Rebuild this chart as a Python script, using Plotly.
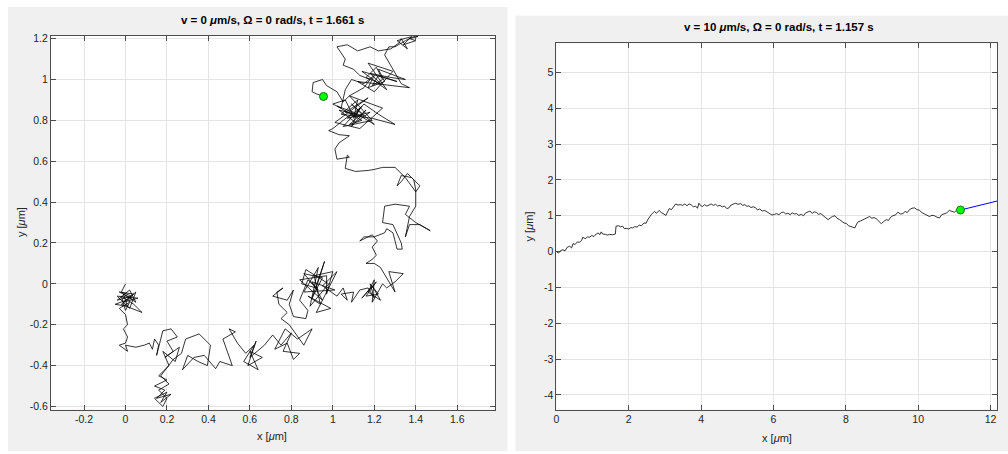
import plotly.graph_objects as go

# ---------------- DATA ----------------
# Left panel: passive Brownian particle (v = 0)
LEFT_X = [
    0, -0.02, 0.03, -0.04, 0.02, 0.05, -0.01, 0.01, -0.05, 0.03,
    -0.03, 0.04, -0.01, 0.06, -0.04, 0.02, 0.05, -0.02,
    0.08, 0.04, -0.02, 0.0, 0.02, -0.03, 0.0, 0.01, -0.01, 0.01,
    0.0, -0.03, 0.01, 0.0, 0.05, 0.09, 0.115, 0.13, 0.14, 0.16,
    0.15, 0.18, 0.22, 0.25, 0.20, 0.23, 0.19, 0.26, 0.24, 0.18,
    0.21, 0.19, 0.16, 0.20, 0.14, 0.19, 0.15, 0.22, 0.17, 0.20,
    0.14, 0.18, 0.20, 0.16, 0.21, 0.17, 0.20, 0.23, 0.27, 0.29,
    0.355, 0.41, 0.395, 0.35, 0.30, 0.275, 0.33, 0.38, 0.435, 0.455,
    0.515, 0.47, 0.53, 0.50, 0.54, 0.58, 0.62, 0.57, 0.64, 0.60,
    0.66, 0.59, 0.63, 0.60, 0.67, 0.71, 0.75, 0.80, 0.76, 0.84,
    0.81, 0.78, 0.72, 0.77, 0.83, 0.90, 0.86, 0.79, 0.75, 0.78,
    0.74, 0.73, 0.76, 0.71, 0.78, 0.81, 0.79, 0.81, 0.87, 0.88,
    0.84, 0.86, 0.88, 0.93, 0.86, 0.95, 0.90, 0.96, 0.92, 0.85,
    0.87, 0.98, 0.89, 0.93, 0.86, 1.01, 0.90, 0.95, 0.84, 0.97,
    0.97, 1.00, 0.91, 0.94, 0.88, 0.99, 0.92, 1.02, 0.95, 1.02,
    1.05, 1.07, 1.04, 1.10, 1.09, 1.13, 1.17, 1.20, 1.18, 1.22,
    1.16, 1.21, 1.14, 1.19, 1.23, 1.17, 1.20,
    1.19, 1.24, 1.26, 1.30, 1.34, 1.27, 1.30, 1.23, 1.20, 1.16,
    1.19, 1.21, 1.19, 1.215, 1.19, 1.13, 1.15, 1.20, 1.25, 1.26,
    1.29, 1.30, 1.31, 1.335, 1.33, 1.29, 1.24, 1.25, 1.30, 1.37,
    1.35, 1.40, 1.47, 1.42, 1.37, 1.35, 1.37, 1.40, 1.40, 1.39,
    1.36, 1.33, 1.31, 1.33, 1.38, 1.42, 1.40, 1.35, 1.30, 1.24,
    1.20, 1.17, 1.11, 1.06, 1.07, 1.08, 1.05, 1.02, 1.01, 1.03,
    1.08, 1.03, 0.98, 1.00, 1.05, 1.10, 1.02, 1.14, 1.08, 1.16,
    1.09, 1.13, 1.07, 1.18, 1.11, 1.03, 1.12, 1.20, 1.09, 1.15,
    1.06, 1.17, 1.01, 1.13, 1.24, 1.08, 1.19, 1.05, 1.14, 1.10,
    1.12, 1.04, 1.19, 1.27, 1.30, 1.22, 1.15, 1.10, 1.06, 1.00,
    1.04, 1.06, 1.09, 1.15, 1.20, 1.17, 1.25, 1.22, 1.30, 1.35,
    1.28, 1.18, 1.23, 1.16, 1.21, 1.24, 1.19, 1.22, 1.31,
    1.14, 1.26, 1.17, 1.29, 1.20, 1.12,
    1.37, 1.33, 1.28, 1.25, 1.27, 1.30, 1.35, 1.39, 1.41, 1.37,
    1.40, 1.34, 1.38, 1.31, 1.36, 1.33,
    1.32, 1.28, 1.22, 1.18, 1.12, 1.07, 1.02, 1.06, 1.05, 1.10,
    1.13, 1.18, 1.15, 1.08, 1.05, 1.02, 0.97, 0.95, 0.905, 0.90,
    0.92, 0.955,
]
LEFT_Y = [
    0, -0.04, -0.06, -0.08, -0.03, -0.09, -0.05, -0.11, -0.10, -0.07,
    -0.04, -0.05, -0.09, -0.07, -0.06, -0.12, -0.04, -0.10,
    -0.14, -0.10, -0.06, -0.13, -0.09, -0.12, -0.15, -0.20, -0.22, -0.26,
    -0.29, -0.30, -0.33, -0.30, -0.31, -0.30, -0.29, -0.32, -0.27, -0.30,
    -0.35, -0.23, -0.22, -0.26, -0.28, -0.33, -0.36, -0.31, -0.38, -0.33,
    -0.40, -0.42, -0.45, -0.47, -0.50, -0.52, -0.56, -0.54, -0.58, -0.53,
    -0.56, -0.60, -0.56, -0.52, -0.49, -0.45, -0.41, -0.37, -0.34, -0.27,
    -0.245, -0.30, -0.40, -0.38, -0.35, -0.42, -0.36, -0.35, -0.415, -0.38,
    -0.40, -0.27, -0.235, -0.22, -0.29, -0.34, -0.30, -0.38, -0.42, -0.33,
    -0.36, -0.40, -0.28, -0.36, -0.30, -0.25, -0.30, -0.24, -0.33, -0.34,
    -0.37, -0.29, -0.32, -0.22, -0.27, -0.22, -0.30, -0.20, -0.17, -0.14,
    -0.10, -0.04, -0.02, -0.06, -0.08, -0.03, -0.10, -0.16, -0.17, -0.13,
    -0.08, -0.03, 0.02, -0.03, 0.05, 0.03, -0.07, 0.11, -0.02, 0.00,
    0.07, 0.00, -0.11, 0.08, -0.04, -0.03, 0.01, -0.08, 0.02, 0.04,
    -0.05, 0.06, 0.04, -0.10, -0.06, -0.12, -0.14, 0.06, -0.01, -0.06,
    -0.02, -0.08, -0.05, -0.04, -0.09, -0.03, -0.02, -0.07, 0.00, -0.05,
    -0.06, 0.01, -0.07, -0.01, -0.08, -0.04, 0.02,
    -0.09, 0.00, -0.02, 0.01, 0.05, 0.06, -0.04, 0.08, 0.10, 0.10,
    0.12, 0.14, 0.18, 0.21, 0.24, 0.21, 0.23, 0.23, 0.25, 0.27,
    0.25, 0.21, 0.17, 0.17, 0.20, 0.29, 0.30, 0.38, 0.39, 0.38,
    0.34, 0.30, 0.26, 0.29, 0.29, 0.23, 0.33, 0.38, 0.46, 0.51,
    0.54, 0.50, 0.48, 0.53, 0.52, 0.48, 0.45, 0.52, 0.57, 0.57,
    0.56, 0.555, 0.55, 0.565, 0.63, 0.62, 0.615, 0.61, 0.66, 0.69,
    0.725, 0.73, 0.75, 0.76, 0.80, 0.84, 0.87, 0.80, 0.78, 0.85,
    0.77, 0.86, 0.81, 0.84, 0.79, 0.85, 0.83, 0.78, 0.88, 0.82,
    0.84, 0.91, 0.79, 0.76, 0.86, 0.92, 0.80, 0.77, 0.87, 0.81,
    0.90, 0.83, 0.81, 0.79, 0.78, 0.83, 0.88, 0.82, 0.90, 0.88,
    0.86, 0.95, 1.00, 0.98, 1.02, 0.96, 0.99, 1.05, 1.02, 1.00,
    1.01, 1.03, 0.98, 1.01, 1.06, 1.00, 0.97, 1.02, 0.99,
    1.04, 0.95, 1.08, 1.04, 0.94, 0.99,
    0.96, 0.98, 1.07, 1.12, 1.16, 1.16, 1.19, 1.21, 1.21, 1.20,
    1.19, 1.17, 1.21, 1.19, 1.15, 1.20,
    1.18, 1.15, 1.14, 1.16, 1.14, 1.17, 1.16, 1.10, 1.07, 1.05,
    1.02, 1.00, 0.96, 0.92, 0.89, 0.94, 0.97, 1.00, 0.985, 0.94,
    0.93, 0.917,
]

# Right panel: active particle (v = 10 um/s)
RIGHT_X = [
    0.00, 0.06, 0.12, 0.18, 0.24, 0.30, 0.37, 0.42, 0.46, 0.52,
    0.58, 0.64, 0.70, 0.73, 0.80, 0.86, 0.92, 0.98, 1.04, 1.10,
    1.16, 1.20, 1.24, 1.28, 1.36, 1.42, 1.47, 1.55, 1.63, 1.65,
    1.72, 1.78, 1.83, 1.88, 1.93, 2.00, 2.06, 2.11, 2.17, 2.23,
    2.29, 2.35, 2.42, 2.48, 2.52, 2.57, 2.62, 2.67, 2.71, 2.77,
    2.84, 2.90, 2.96, 3.03, 3.07, 3.12, 3.18, 3.24, 3.30, 3.36,
    3.43, 3.49, 3.55, 3.61, 3.67, 3.73, 3.79, 3.85, 3.90, 3.94,
    3.99, 4.04, 4.10, 4.16, 4.22, 4.28, 4.34, 4.40, 4.46, 4.52,
    4.59, 4.65, 4.71, 4.77, 4.83, 4.89, 4.95, 5.02, 5.09, 5.15,
    5.21, 5.27, 5.32, 5.38, 5.44, 5.50, 5.56, 5.62, 5.69, 5.76,
    5.83, 5.90, 5.96, 6.03, 6.09, 6.15, 6.22, 6.28, 6.34, 6.40,
    6.46, 6.52, 6.58, 6.64, 6.70, 6.77, 6.83, 6.89, 6.95, 7.01,
    7.07, 7.13, 7.19, 7.25, 7.31, 7.38, 7.44, 7.51, 7.57, 7.63,
    7.70, 7.76, 7.83, 7.89, 7.95, 8.02, 8.08, 8.14, 8.20, 8.25,
    8.30, 8.34, 8.40, 8.48, 8.54, 8.60, 8.66, 8.72, 8.78, 8.84,
    8.90, 8.98, 9.05, 9.12, 9.18, 9.24, 9.30, 9.37, 9.44, 9.51,
    9.58, 9.64, 9.70, 9.76, 9.83, 9.90, 9.97, 10.04, 10.10, 10.17,
    10.24, 10.31, 10.38, 10.45, 10.52, 10.59, 10.65, 10.72, 10.79, 10.86,
    10.93, 11.00, 11.07, 11.12, 11.17,
]
RIGHT_Y = [
    0.00, -0.04, 0.03, 0.05, 0.02, 0.12, 0.15, 0.10, 0.22, 0.20,
    0.27, 0.26, 0.31, 0.40, 0.36, 0.41, 0.40, 0.45, 0.42, 0.49,
    0.52, 0.47, 0.55, 0.49, 0.48, 0.46, 0.48, 0.47, 0.49, 0.71,
    0.72, 0.69, 0.71, 0.64, 0.65, 0.63, 0.67, 0.66, 0.70, 0.68,
    0.74, 0.72, 0.80, 0.79, 0.88, 0.97, 1.03, 1.08, 1.12, 1.07,
    1.15, 1.09, 1.05, 1.01, 1.10, 1.20, 1.17, 1.26, 1.33, 1.30,
    1.31, 1.29, 1.33, 1.28, 1.33, 1.30, 1.25, 1.27, 1.21, 1.35,
    1.28, 1.26, 1.31, 1.27, 1.30, 1.33, 1.29, 1.32, 1.27, 1.29,
    1.25, 1.27, 1.20, 1.22, 1.30, 1.33, 1.35, 1.32, 1.34, 1.29,
    1.31, 1.26, 1.28, 1.23, 1.25, 1.23, 1.16, 1.19, 1.13, 1.15,
    1.10, 1.05, 1.02, 1.04, 1.06, 1.03, 1.09, 1.10, 1.05, 1.07,
    1.03, 1.08, 1.05, 1.06, 1.01, 1.04, 1.00, 1.08, 1.10, 1.13,
    1.07, 1.11, 1.09, 1.04, 1.06, 1.00, 0.93, 0.89, 0.94, 0.98,
    1.00, 0.93, 0.89, 0.84, 0.80, 0.78, 0.72, 0.70, 0.67, 0.66,
    0.77, 0.83, 0.85, 0.89, 0.93, 0.97, 0.98, 0.93, 0.95, 0.92,
    0.85, 0.78, 0.84, 0.89, 0.87, 0.96, 1.00, 1.02, 1.10, 1.05,
    1.06, 1.12, 1.09, 1.17, 1.21, 1.22, 1.17, 1.15, 1.09, 1.06,
    1.03, 0.98, 1.01, 1.00, 0.96, 0.94, 1.03, 1.06, 1.08, 1.15,
    1.12, 1.10, 1.16, 1.14, 1.16,
]
# Orientation (propulsion direction) segment for the active particle
RIGHT_DIR_X = [11.17, 12.5]
RIGHT_DIR_Y = [1.16, 1.49]

TITLES = [
    "<b>v = 0 <i>μ</i>m/s, Ω = 0 rad/s, t = 1.661 s</b>",
    "<b>v = 10 <i>μ</i>m/s, Ω = 0 rad/s, t = 1.157 s</b>",
]
X_LABEL = "x [<i>μ</i>m]"
Y_LABEL = "y [<i>μ</i>m]"

L_XTICKS = [-0.2, 0, 0.2, 0.4, 0.6, 0.8, 1.0, 1.2, 1.4, 1.6]
L_XTEXT = ["-0.2", "0", "0.2", "0.4", "0.6", "0.8", "1", "1.2", "1.4", "1.6"]
L_YTICKS = [-0.6, -0.4, -0.2, 0, 0.2, 0.4, 0.6, 0.8, 1.0, 1.2]
L_YTEXT = ["-0.6", "-0.4", "-0.2", "0", "0.2", "0.4", "0.6", "0.8", "1", "1.2"]
R_XTICKS = [0, 2, 4, 6, 8, 10, 12]
R_XTEXT = ["0", "2", "4", "6", "8", "10", "12"]
R_YTICKS = [-4, -3, -2, -1, 0, 1, 2, 3, 4, 5]
R_YTEXT = ["-4", "-3", "-2", "-1", "0", "1", "2", "3", "4", "5"]

L_XRANGE = [-0.36, 1.78]
L_YRANGE = [-0.615, 1.215]
R_XRANGE = [0, 12.18]
R_YRANGE = [-4.41, 5.81]

# ---------------- FIGURE ----------------
W, H = 1008, 454
FONT = "Liberation Sans, Arial, Helvetica, sans-serif"
AXC = "#262626"


def px(x):
    return x / W


def py(y):
    return 1 - y / H


def axis(domain, rng, tv, tt, anchor):
    return dict(
        domain=domain, range=rng, tickvals=tv, ticktext=tt, anchor=anchor,
        ticks="inside", ticklen=5, tickcolor="#4d4d4d", tickwidth=1,
        showline=True, linecolor="#4d4d4d", linewidth=1, mirror="ticks",
        showgrid=True, gridcolor="#e4e4e4", gridwidth=1, zeroline=False,
        tickfont=dict(family=FONT, size=10.5, color=AXC), fixedrange=True,
    )


fig = go.Figure()

fig.add_trace(go.Scatter(x=LEFT_X, y=LEFT_Y, mode="lines",
                         line=dict(color="black", width=0.8),
                         xaxis="x", yaxis="y", showlegend=False))
fig.add_trace(go.Scatter(x=[LEFT_X[-1]], y=[LEFT_Y[-1]], mode="markers",
                         marker=dict(color="#00ff00", size=8,
                                     line=dict(color="#1a6e1a", width=1)),
                         xaxis="x", yaxis="y", showlegend=False))

fig.add_trace(go.Scatter(x=RIGHT_X, y=RIGHT_Y, mode="lines",
                         line=dict(color="black", width=0.8),
                         xaxis="x2", yaxis="y2", showlegend=False))
fig.add_trace(go.Scatter(x=RIGHT_DIR_X, y=RIGHT_DIR_Y, mode="lines",
                         line=dict(color="#0000ff", width=1),
                         xaxis="x2", yaxis="y2", showlegend=False))
fig.add_trace(go.Scatter(x=[RIGHT_X[-1]], y=[RIGHT_Y[-1]], mode="markers",
                         marker=dict(color="#00ff00", size=8,
                                     line=dict(color="#1a6e1a", width=1)),
                         xaxis="x2", yaxis="y2", showlegend=False))

L_DOM_X = [px(48), px(493)]
L_DOM_Y = [py(412), py(33)]
R_DOM_X = [px(555), px(997)]
R_DOM_Y = [py(412), py(41)]

shapes = [
    dict(type="rect", xref="paper", yref="paper", x0=px(5), x1=px(506),
         y0=0, y1=py(4), fillcolor="#f0f0f0", line=dict(width=0), layer="below"),
    dict(type="rect", xref="paper", yref="paper", x0=px(514), x1=1,
         y0=0, y1=py(13), fillcolor="#f0f0f0", line=dict(width=0), layer="below"),
    dict(type="rect", xref="paper", yref="paper", x0=L_DOM_X[0], x1=L_DOM_X[1],
         y0=L_DOM_Y[0], y1=L_DOM_Y[1], fillcolor="white", line=dict(width=0), layer="below"),
    dict(type="rect", xref="paper", yref="paper", x0=R_DOM_X[0], x1=R_DOM_X[1],
         y0=R_DOM_Y[0], y1=R_DOM_Y[1], fillcolor="white", line=dict(width=0), layer="below"),
]

ann_font = dict(family=FONT, size=11, color=AXC)
annotations = [
    dict(text=TITLES[0], x=px(270), y=py(17), xref="paper", yref="paper",
         showarrow=False, xanchor="center", yanchor="middle",
         font=dict(family=FONT, size=11.5, color="black")),
    dict(text=TITLES[1], x=px(778), y=py(24), xref="paper", yref="paper",
         showarrow=False, xanchor="center", yanchor="middle",
         font=dict(family=FONT, size=11.5, color="black")),
    dict(text=X_LABEL, x=px(270), y=py(439), xref="paper", yref="paper",
         showarrow=False, xanchor="center", yanchor="middle", font=ann_font),
    dict(text=X_LABEL, x=px(776), y=py(441), xref="paper", yref="paper",
         showarrow=False, xanchor="center", yanchor="middle", font=ann_font),
    dict(text=Y_LABEL, x=px(18), y=py(222), xref="paper", yref="paper",
         showarrow=False, xanchor="center", yanchor="middle", textangle=-90,
         font=ann_font),
    dict(text=Y_LABEL, x=px(528), y=py(226), xref="paper", yref="paper",
         showarrow=False, xanchor="center", yanchor="middle", textangle=-90,
         font=ann_font),
]

fig.update_layout(
    width=W, height=H, autosize=False,
    margin=dict(l=0, r=0, t=0, b=0),
    paper_bgcolor="white", plot_bgcolor="white",
    xaxis=axis(L_DOM_X, L_XRANGE, L_XTICKS, L_XTEXT, "y"),
    yaxis=axis(L_DOM_Y, L_YRANGE, L_YTICKS, L_YTEXT, "x"),
    xaxis2=axis(R_DOM_X, R_XRANGE, R_XTICKS, R_XTEXT, "y2"),
    yaxis2=axis(R_DOM_Y, R_YRANGE, R_YTICKS, R_YTEXT, "x2"),
    shapes=shapes, annotations=annotations,
    showlegend=False,
)

fig.write_html(
    "out.html",
    config={"displayModeBar": False},
    post_script="document.body.style.margin='0';document.body.style.padding='0';"
                "document.body.style.overflow='hidden';",
)
